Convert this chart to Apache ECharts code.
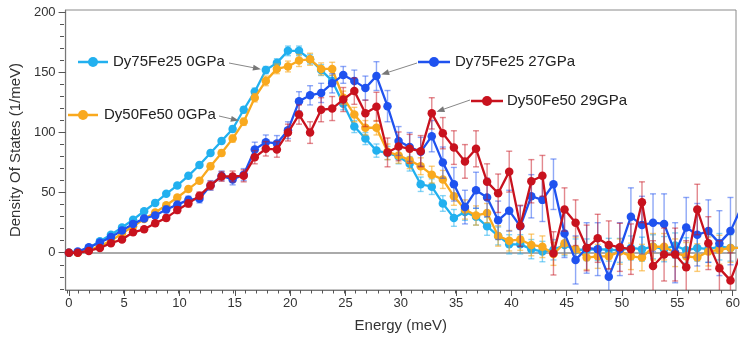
<!DOCTYPE html>
<html><head><meta charset="utf-8">
<script src="https://cdn.jsdelivr.net/npm/echarts@6/dist/echarts.min.js"></script>
<style>html,body{margin:0;padding:0;background:#fff}#c{width:744px;height:338px}</style>
</head><body><div id="c"></div>
<script>
// ---- data ----
const energy = [0,0.8,1.8,2.8,3.8,4.8,5.8,6.8,7.8,8.8,9.8,10.8,11.8,12.8,13.8,14.8,15.8,16.8,17.8,18.8,19.8,20.8,21.8,22.8,23.8,24.8,25.8,26.8,27.8,28.8,29.8,30.8,31.8,32.8,33.8,34.8,35.8,36.8,37.8,38.8,39.8,40.8,41.8,42.8,43.8,44.8,45.8,46.8,47.8,48.8,49.8,50.8,51.8,52.8,53.8,54.8,55.8,56.8,57.8,58.8,59.8,60.8];

const dy75fe25_0 = [0,0.5,4,9.5,15,21,27.5,34.5,41.5,49, 56,64,73,83,93,103,119,134,152,158, 168,168,161,152,143,124,105,95,85,83, 80,74,57,55,41,29,34,30,22,14, 7,7,3,1,2.5,6.5,2.5,2.5,3,2.5, 2,4,3,5,3,6,2,4,3,5, 4,4];
const dy75fe25_0_err = [0.5,0.5,0.7,0.8,1,1,1.2,1.3,1.5,1.5, 1.7,1.8,2,2,2.2,2.5,2.5,3,3,3.5, 4,4,4,4.5,4.5,5,5,5,5.5,5.5, 6,6,6,6.5,6.5,7,7,7,7.5,7.5, 8,8,8,8.5,8.5,9,9,9,9.5,9.5, 10,10,10,10,10.5,10.5,10.5,11,11,11, 11,11];

const dy50fe50_0 = [0,0,2,5.5,10,16,22,28,33.5,39.5, 46,53,60,72,83,95,109,129,143,153, 155,160,161,153,153,129,115,104,104,84, 81,77,72,65,61,47,36,31,33,14, 10,11,6.5,5,-1,8,3,-4,-3,-3, 1,-3,-4,5,5,0,-3,-4,1,2.5, 4,4];
const dy50fe50_0_err = [0.5,0.5,0.7,0.8,1,1.2,1.3,1.5,1.5,1.7, 1.8,2,2.2,2.5,2.5,3,3,3.5,4,4, 4.5,5,5,5,5.5,5.5,6,6,6,6.5, 6.5,7,7,7,7.5,7.5,8,8,8,8.5, 8.5,9,9,9,9.5,9.5,10,10,10,10.5, 10.5,11,11,11,11,11.5,11.5,11.5,12,12, 12,12];

const dy75fe25_27 = [0,1,4.5,8.5,13,18.5,24,28.5,31,36, 40,44,45,56,64,61,65,86,92,91, 102,126,131,133,141,148,143,137,147,122, 93,88,84,97,75,57,38,52,46,27, 35,22,47,44,57,16,-6,4,3,-20, 3,30,23,25,24,0,21,15,18,8, 18,38];
const dy75fe25_27_err = [0.5,0.8,1,1.2,1.5,1.8,2,2.2,2.5,2.8, 3,3,3.5,4,4,4.5,5,6,6,6.5, 7,8,8,8,8,7,9,10,12,13, 12,12,12,13,13,14,14,15,16,16, 17,17,18,18,21,20,20,21,22,22, 22,24,24,24,25,25,25,26,26,27, 28,28];

const dy50fe50_29 = [0,0,1.5,4,8,11,17,19.5,24.5,29, 35.5,41,47.5,56,63.5,63.5,64,79.5,86.5,86, 100,115,100,119,120,127.5,134.5,116,121.5,83.5, 88.5,86.5,84.5,116,99.5,87.5,76,86.5,59,49.5, 67.5,22.5,59.5,64,-0.5,36,25,4,12,6.5, 4.5,3,42,-11,-1.5,-1.5,-12,36,8,-13, -23,1];
const dy50fe50_29_err = [0.5,0.5,0.8,1,1.2,1.5,1.8,2,2.2,2.5, 2.8,3,3,3.5,4,4.5,5,5.5,6,6.5, 7,8,9,10,10,10,11,11,12,12, 12,12,13,13,13,14,14,15,15,16, 17,17,18,17,18,18,19,19,20,20, 20,21,17,21,22,22,22,21,22,23, 23,23];

const seriesNames = ['Dy75Fe25 0GPa','Dy50Fe50 0GPa','Dy75Fe25 27GPa','Dy50Fe50 29GPa'];
const xMajorTicks = [0,5,10,15,20,25,30,35,40,45,50,55,60];
const yMajorTicks = [0,50,100,150,200];
// annotation targets (energy of the point each arrow points to)
const arrowTargets = [17.8, 15.8, 27.8, 32.8];

// ---- styling ----
const COLORS = ['#22b0ef','#f9a91e','#1f52ef','#c8121e'];
const ERRCOL = ['rgba(34,176,239,0.55)','rgba(249,169,30,0.6)','rgba(31,82,239,0.5)','rgba(200,18,30,0.5)'];
const FONT = '"Liberation Sans", Arial, sans-serif';

const values = [dy75fe25_0, dy50fe50_0, dy75fe25_27, dy50fe50_29];
const errs = [dy75fe25_0_err, dy50fe50_0_err, dy75fe25_27_err, dy50fe50_29_err];

// plot box geometry
const G = {left:64, top:10, width:672, height:280};
const XMIN = -0.3, XMAX = 60.3, YMIN = -31, YMAX = 202;
// inner grid spanning exactly 0..60 and -30..200, used only for minor ticks
const gx0 = G.left + (0 - XMIN)/(XMAX - XMIN)*G.width;
const gx1 = G.left + (60 - XMIN)/(XMAX - XMIN)*G.width;
const gy0 = G.top + (YMAX - 200)/(YMAX - YMIN)*G.height;
const gy1 = G.top + (YMAX - (-30))/(YMAX - YMIN)*G.height;

function errRender(color){
  return function(params, api){
    const x = api.value(0), y = api.value(1), e = api.value(2);
    const t = api.coord([x, y + e]);
    const b = api.coord([x, y - e]);
    const hw = 3;
    const st = {stroke: color, lineWidth: 1.4};
    return {type:'group', children:[
      {type:'line', shape:{x1:t[0],y1:t[1],x2:b[0],y2:b[1]}, style:st},
      {type:'line', shape:{x1:t[0]-hw,y1:t[1],x2:t[0]+hw,y2:t[1]}, style:st},
      {type:'line', shape:{x1:b[0]-hw,y1:b[1],x2:b[0]+hw,y2:b[1]}, style:st}
    ]};
  };
}

const series = [];
values.forEach((vals, k) => {
  series.push({
    type:'custom', name: seriesNames[k]+' err', xAxisIndex:0, yAxisIndex:0,
    renderItem: errRender(ERRCOL[k]), clip:true, silent:true, z: 2+k*2,
    data: energy.map((x,i)=>[x, vals[i], errs[k][i]])
  });
  series.push({
    type:'line', name: seriesNames[k], xAxisIndex:0, yAxisIndex:0,
    data: energy.map((x,i)=>[x, vals[i]]),
    symbol:'circle', symbolSize:8.5, showAllSymbol:true, clip:true,
    itemStyle:{color: COLORS[k]}, lineStyle:{color: COLORS[k], width:2.3},
    z: 3+k*2, animation:false,
    markLine: k===0 ? {silent:true, symbol:['none','none'], label:{show:false},
      lineStyle:{color:'#8e8e8e', width:1.5, type:'solid'}, data:[{yAxis:0}], z:1} : undefined
  });
});

const chart = echarts.init(document.getElementById('c'), null, {renderer:'canvas'});
chart.setOption({
  animation:false,
  backgroundColor:'#fff',
  textStyle:{fontFamily: FONT},
  grid:[
    {left:G.left, top:G.top, width:G.width, height:G.height, show:true, borderColor:'#8a8a8a', borderWidth:1},
    {left:gx0, top:gy0, width:gx1-gx0, height:gy1-gy0, show:false}
  ],
  xAxis:[
    {type:'value', gridIndex:0, min:XMIN, max:XMAX, position:'bottom',
     axisLine:{show:true, onZero:false, lineStyle:{color:'#777', width:1.2}},
     axisTick:{show:true, inside:false, length:6, customValues:xMajorTicks, lineStyle:{color:'#555'}},
     axisLabel:{customValues:xMajorTicks, color:'#333', fontSize:13, margin:7, fontFamily:FONT},
     splitLine:{show:false},
     name:'Energy (meV)', nameLocation:'middle', nameGap:28,
     nameTextStyle:{fontSize:15, color:'#333', fontFamily:FONT}},
    {type:'value', gridIndex:1, min:0, max:60, interval:1, position:'bottom',
     offset: (G.top + G.height) - gy1,
     axisLine:{show:false, onZero:false},
     axisTick:{show:true, inside:false, length:3.5, lineStyle:{color:'#555'}},
     axisLabel:{show:false}, splitLine:{show:false}}
  ],
  yAxis:[
    {type:'value', gridIndex:0, min:YMIN, max:YMAX, position:'left',
     axisLine:{show:true, onZero:false, lineStyle:{color:'#777', width:1.2}},
     axisTick:{show:true, inside:false, length:7, customValues:yMajorTicks, lineStyle:{color:'#555'}},
     axisLabel:{customValues:yMajorTicks, color:'#333', fontSize:13, margin:10, fontFamily:FONT},
     splitLine:{show:false},
     name:'Density Of States (1/meV)', nameLocation:'middle', nameGap:41, nameRotate:90,
     nameTextStyle:{fontSize:15, color:'#333', fontFamily:FONT}},
    {type:'value', gridIndex:1, min:-30, max:200, interval:10, position:'left',
     offset: gx0 - G.left,
     axisLine:{show:false, onZero:false},
     axisTick:{show:true, inside:false, length:4, lineStyle:{color:'#555'}},
     axisLabel:{show:false}, splitLine:{show:false}}
  ],
  series: series
});

// ---- annotations: legend glyph + label + arrow to a data point ----
const annot = [
  {line:[78,108], y:62, cx:93, tx:113, from:[229,63]},
  {line:[68,98], y:115, cx:83, tx:104, from:[219,116]},
  {line:[418,450], y:62, cx:434, tx:455, from:[417,63]},
  {line:[471,503], y:101, cx:487, tx:507, from:[470,100]}
];
const graphics = [];
annot.forEach((a, k) => {
  const idx = energy.indexOf(arrowTargets[k]);
  const p = chart.convertToPixel({xAxisIndex:0, yAxisIndex:0}, [energy[idx], values[k][idx]]);
  const dx = p[0]-a.from[0], dy = p[1]-a.from[1];
  const L = Math.sqrt(dx*dx+dy*dy);
  const ux = dx/L, uy = dy/L;
  const tip = [p[0]-ux*5, p[1]-uy*5];
  const base = [tip[0]-ux*8, tip[1]-uy*8];
  const nx = -uy, ny = ux;
  graphics.push({type:'line', shape:{x1:a.line[0], y1:a.y, x2:a.line[1], y2:a.y}, style:{stroke:COLORS[k], lineWidth:2.5}, z:100});
  graphics.push({type:'circle', shape:{cx:a.cx, cy:a.y, r:5}, style:{fill:COLORS[k]}, z:101});
  graphics.push({type:'text', x:a.tx, y:a.y, style:{text:seriesNames[k], fill:'#222', font:'15px '+FONT, textVerticalAlign:'middle', verticalAlign:'middle'}, z:101});
  graphics.push({type:'line', shape:{x1:a.from[0], y1:a.from[1], x2:base[0], y2:base[1]}, style:{stroke:'#888', lineWidth:1}, z:100});
  graphics.push({type:'polygon', shape:{points:[tip, [base[0]+nx*3, base[1]+ny*3], [base[0]-nx*3, base[1]-ny*3]]}, style:{fill:'#777'}, z:100});
});
chart.setOption({graphic: graphics});
</script>
</body></html>
